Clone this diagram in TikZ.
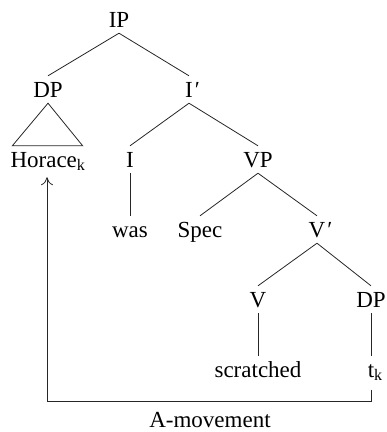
\documentclass[tikz,border=0pt]{standalone}
\usepackage{fontspec}
\setmainfont{Liberation Serif}
\usetikzlibrary{arrows.meta}

\begin{document}
\begin{tikzpicture}[x=1pt,y=-1pt,
treenode/.style={anchor=base, inner xsep=0pt, inner ysep=6pt, text height=15pt, text depth=0pt, font=\fontsize{23}{27}\selectfont},
branch/.style={draw=black!85, line width=0.8pt},
]
\useasboundingbox (0,0) rectangle (387,432);
%Nodes
\node[treenode](ip) at (119,27){IP};
\node[treenode](dp) at (48,97){DP};
\node[treenode](ibar) at (189,97){I\rlap{\kern2pt′}};
\node[treenode](horace) at (48,167){Horace\textsubscript{k}};
\node[treenode](i) at (130,167){I};
\node[treenode](vp) at (258,167){VP};
\node[treenode](was) at (130,237){was};
\node[treenode](spec) at (200,237){Spec};
\node[treenode](vbar) at (317,237){V\rlap{\kern2pt′}};
\node[treenode](v) at (258,307){V};
\node[treenode](dpk) at (371,307){DP};
\node[treenode](scratched) at (258,377){scratched};
\node[treenode](tk) at (371,377){t\rlap{\textsubscript{k}}};
\node[treenode,inner ysep=0pt,text height=13pt](amove) at (210,427){A-movement};

\draw[branch](ip.south) -- (dp.north);
\draw[branch](ip.south) -- (ibar.north);
\draw[branch](dp.south) -- ([xshift=2pt]horace.north west) -- ([xshift=-3pt]horace.north east) -- cycle;
\draw[branch](ibar.south) -- (i.north);
\draw[branch](ibar.south) -- (vp.north);
\draw[branch](i.south) -- (was.north);
\draw[branch](vp.south) -- (spec.north);
\draw[branch](vp.south) -- (vbar.north);
\draw[branch](vbar.south) -- (v.north);
\draw[branch](vbar.south) -- (dpk.north);
\draw[branch](v.south) -- (scratched.north);
\draw[branch](dpk.south) -- (tk.north);

%movement
\coordinate (mvr) at (371,401);
\coordinate (mvl) at (47,401);
\draw[branch,-{To[length=8pt,width=12pt]},shorten <=7pt,shorten >=4pt](tk.south) -- (mvr) -- (mvl) -- (mvl |- horace.south);
\end{tikzpicture}
\end{document}
